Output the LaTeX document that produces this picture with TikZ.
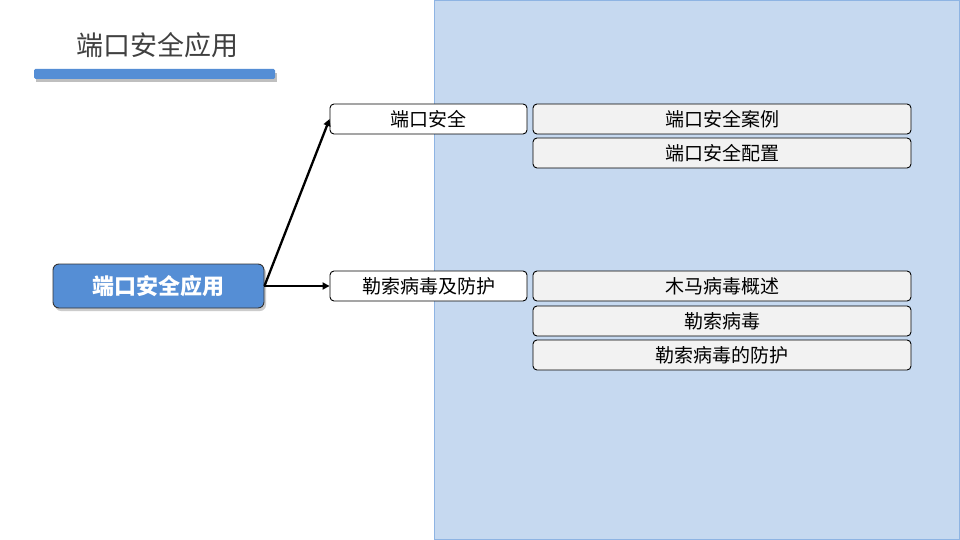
\documentclass[tikz,border=0pt]{standalone}
\usepackage{fontspec}
\setmainfont{Noto Sans CJK SC}
\newfontfamily\cjk{Noto Sans CJK SC}
\usetikzlibrary{shadows,arrows.meta}
\definecolor{panel}{HTML}{C6D9F0}
\definecolor{panelb}{HTML}{8EB4E3}
\definecolor{mainb}{HTML}{558ED5}
\definecolor{titlec}{HTML}{404040}
\definecolor{leaf}{HTML}{F2F2F2}
\tikzset{
  x=1pt,y=-1pt,
  lvtwo/.style={draw=black,fill=white,rounded corners=4pt,line width=0.9pt,minimum width=197pt,minimum height=30pt,inner sep=0pt,font=\fontsize{19}{19}\selectfont,text=black},
  lvthree/.style={draw=black,fill=leaf,rounded corners=4pt,line width=0.9pt,minimum width=378pt,minimum height=30pt,inner sep=0pt,font=\fontsize{19}{19}\selectfont,text=black},
  rootbox/.style={draw=black!80,fill=mainb,rounded corners=6pt,line width=0.9pt,minimum width=211pt,minimum height=44pt,inner sep=0pt,font=\fontsize{22}{22}\selectfont\bfseries,text=white,drop shadow={shadow xshift=2pt,shadow yshift=-3pt,opacity=0.4}},
  conn/.style={line width=2.3pt,-{Triangle[length=7pt,width=7pt]}}
}
\begin{document}
\begin{tikzpicture}
\useasboundingbox (0,0) rectangle (960,540);
\fill[white] (0,0) rectangle (960,540);
\draw[fill=panel,draw=panelb,line width=1pt] (434.5,0.5) rectangle (959.5,539.5);
\node[anchor=west,text=titlec,font=\fontsize{27}{27}\selectfont] (title) at (73,45) {端口安全应用};
\fill[black,opacity=0.25] (36,73) rectangle (277,82);
\fill[mainb,rounded corners=1.5pt] (34,69) rectangle (275,79);
\node[rootbox] (root) at (158.5,286) {端口安全应用};
\node[lvtwo] (a) at (428.5,119) {端口安全};
\node[lvtwo] (b) at (428.5,286) {勒索病毒及防护};
\node[lvthree] (a1) at (722,119) {端口安全案例};
\node[lvthree] (a2) at (722,153) {端口安全配置};
\node[lvthree] (b1) at (722,286) {木马病毒概述};
\node[lvthree] (b2) at (722,321) {勒索病毒};
\node[lvthree] (b3) at (722,355) {勒索病毒的防护};
\draw[conn] (root.east) -- (a.west);
\draw[conn] (root.east) -- (b.west);
\end{tikzpicture}
\end{document}
